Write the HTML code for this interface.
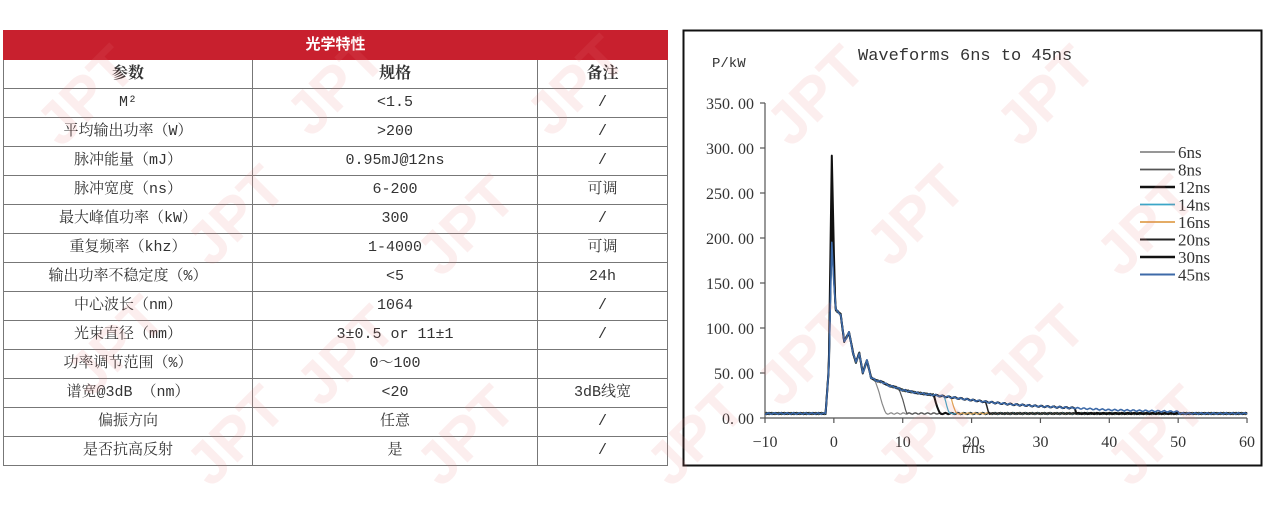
<!DOCTYPE html>
<html><head><meta charset="utf-8"><style>
html,body{margin:0;padding:0;background:#fff;width:1266px;height:505px;overflow:hidden;position:relative}
body{font-family:"Liberation Serif","Noto Serif CJK SC",serif;color:#222}
table{position:absolute;left:3px;top:30px;width:664px;border-collapse:collapse;table-layout:fixed}
td{border:1px solid #777;text-align:center;font-size:15px;height:28px;padding:0;line-height:28px;font-family:"Liberation Mono","Noto Serif CJK SC",serif;color:#333}
tr.h td{background:#c8202e;color:#fff;font-weight:bold;height:27px;border-color:#c8202e;font-family:"Liberation Serif","Noto Sans CJK SC",sans-serif}
tr.c td{font-size:16px;font-weight:bold;font-family:"Liberation Serif","Noto Serif CJK SC",serif}
td.r{border-left:1.5px solid #111}
svg{position:absolute;left:0;top:0}
</style></head><body>
<table>
<colgroup><col style="width:249px"><col style="width:285px"><col style="width:130px"></colgroup>
<tr class="h"><td colspan="3">光学特性</td></tr>
<tr class="c"><td>参数</td><td>规格</td><td class="r">备注</td></tr>
<tr><td>M²</td><td>&lt;1.5</td><td class="r">/</td></tr>
<tr><td>平均输出功率（W）</td><td>&gt;200</td><td class="r">/</td></tr>
<tr><td>脉冲能量（mJ）</td><td>0.95mJ@12ns</td><td class="r">/</td></tr>
<tr><td>脉冲宽度（ns）</td><td>6-200</td><td class="r">可调</td></tr>
<tr><td>最大峰值功率（kW）</td><td>300</td><td class="r">/</td></tr>
<tr><td>重复频率（khz）</td><td>1-4000</td><td class="r">可调</td></tr>
<tr><td>输出功率不稳定度（%）</td><td>&lt;5</td><td class="r">24h</td></tr>
<tr><td>中心波长（nm）</td><td>1064</td><td class="r">/</td></tr>
<tr><td>光束直径（mm）</td><td>3±0.5 or 11±1</td><td class="r">/</td></tr>
<tr><td>功率调节范围（%）</td><td>0～100</td><td class="r"></td></tr>
<tr><td>谱宽@3dB （nm）</td><td>&lt;20</td><td class="r">3dB线宽</td></tr>
<tr><td>偏振方向</td><td>任意</td><td class="r">/</td></tr>
<tr><td>是否抗高反射</td><td>是</td><td class="r">/</td></tr>
</table>

<svg id="ch" width="1266" height="505" font-family="Liberation Mono, monospace">
<rect x="683.5" y="30.5" width="578" height="435" fill="none" stroke="#111" stroke-width="2"/>
<text x="858" y="60" font-size="17" fill="#333">Waveforms 6ns to 45ns</text>
<text x="712" y="67" font-size="14" fill="#333">P/kW</text>
<g id="ax" stroke="#555" stroke-width="1.2"></g>
<g id="lbl" font-size="16" fill="#333" font-family="Liberation Serif, serif"></g>
<g id="series" fill="none" stroke-width="1.3" stroke-linejoin="round"></g>
<g id="leg" font-size="17" fill="#333" font-family="Liberation Serif, serif"></g>
<text x="962" y="453" font-size="16" fill="#333" font-family="Liberation Serif, serif">t/ns</text>
<g id="wm" font-family="Liberation Sans, sans-serif" font-weight="bold" font-size="60" fill="rgba(235,120,120,0.13)"></g>
</svg>
<script>
var NS="http://www.w3.org/2000/svg";
function X(t){return 765+(t+10)*6.886}
function Y(p){return 418-p*0.9}
function el(n,a,p){var e=document.createElementNS(NS,n);for(var k in a)e.setAttribute(k,a[k]);p.appendChild(e);return e}
var ax=document.getElementById('ax'),lbl=document.getElementById('lbl');
el('line',{x1:765,y1:103,x2:765,y2:418},ax);
el('line',{x1:765,y1:418,x2:1247,y2:418},ax);
for(var v=0;v<=350;v+=50){el('line',{x1:760,y1:Y(v),x2:765,y2:Y(v)},ax);
 var t=el('text',{x:754,y:Y(v)+6,'text-anchor':'end'},lbl);t.textContent=v.toFixed(2).replace('.','. ');}
for(var v=-10;v<=60;v+=10){el('line',{x1:X(v),y1:418,x2:X(v),y2:423},ax);
 var t=el('text',{x:X(v),y:447,'text-anchor':'middle'},lbl);t.textContent=(v<0?'−10':v);}
var knots=[[-10,5],[-1.2,5],[-0.7,60],[-0.3,195],[0,150],[0.3,120],[1,115],[1.5,85],[2.2,95],[2.8,72],[3.2,62],[3.7,72],[4.2,50],[4.8,64],[5.4,45],[6,42],[7,40],[8,36],[9,34],[10,31],[12,28],[15,25],[18,22],[22,18],[26,15],[30,13],[35,11],[40,9],[45,8],[50,7],[52,5],[60,5]];
function f(t){for(var i=1;i<knots.length;i++){if(t<=knots[i][0]){var a=knots[i-1],b=knots[i];return a[1]+(b[1]-a[1])*(t-a[0])/(b[0]-a[0]);}}return 5}
var ts=[];for(var t=-10;t<=60.001;t+=0.2)ts.push(+t.toFixed(2));
knots.forEach(function(k){ts.push(k[0])});ts.sort(function(a,b){return a-b});
var S=[["6ns","#888",6,195,1.2],["8ns","#555",9.5,200,1.2],["12ns","#111",14.5,292,2],["14ns","#3aa6c8",16,195,1.2],["16ns","#e0a050",17,200,1.2],["20ns","#222",22,215,1.5],["30ns","#111",35,230,2],["45ns","#3d6aa8",50,195,1.6]];
var g=document.getElementById('series'),leg=document.getElementById('leg');
S.forEach(function(s,k){var pts=[],seed=k*7;
 ts.forEach(function(t){var p=f(t);
  if(t>-0.75&&t<0.05){var w=1-Math.abs(t+0.3)/0.45;p=p+(s[3]-195)*Math.max(0,w);}
  if(t>s[2]){p=Math.max(5,f(s[2])-(t-s[2])*25);}
  p+=Math.sin(t*7+seed)*0.8;pts.push(X(t).toFixed(1)+','+Y(p).toFixed(1));});
 el('polyline',{points:pts.join(' '),stroke:s[1],'stroke-width':s[4]},g);
 var y=152+k*17.5;el('line',{x1:1140,y1:y,x2:1175,y2:y,stroke:s[1],'stroke-width':s[4]+0.5},leg);
 var t=el('text',{x:1178,y:y+6},leg);t.textContent=s[0];});
var wm=document.getElementById('wm');
[[100,110],[350,100],[590,100],[830,110],[1060,110],[250,230],[480,240],[930,230],[1160,240],[130,360],[360,370],[820,370],[1050,370],[250,450],[480,450],[710,450],[940,450],[1170,450]].forEach(function(p){
 var t=el('text',{x:p[0],y:p[1],transform:'rotate(-45 '+p[0]+' '+p[1]+')','text-anchor':'middle'},wm);t.textContent='JPT';});
</script>
</body></html>
